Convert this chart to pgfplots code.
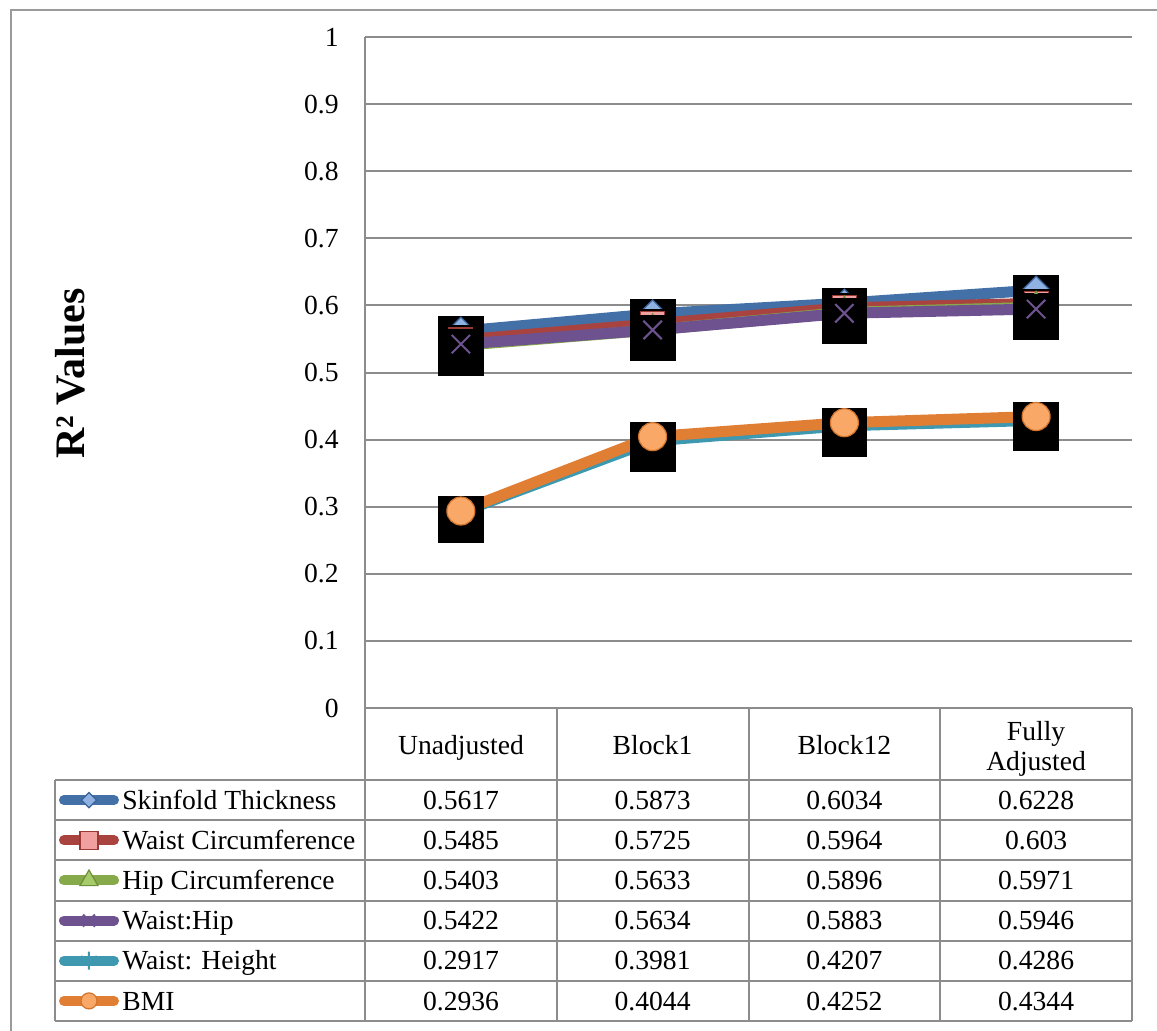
\documentclass[border=0pt]{standalone}
\usepackage{pgfplots}
\pgfplotsset{compat=1.18}
\usepackage{pgfplotstable}
\usepackage{fontspec}
\setmainfont{Liberation Serif}
\definecolor{cBlue}{HTML}{4470A8}
\definecolor{cBlueL}{HTML}{8FB2E3}
\definecolor{cBlueD}{HTML}{3A6298}
\definecolor{cRed}{HTML}{A84340}
\definecolor{cRedL}{HTML}{F0A09E}
\definecolor{cRedD}{HTML}{9A3A37}
\definecolor{cGreen}{HTML}{86A94A}
\definecolor{cGreenL}{HTML}{A5CB6A}
\definecolor{cGreenD}{HTML}{6E8E3A}
\definecolor{cPurple}{HTML}{6E5290}
\definecolor{cTeal}{HTML}{3D98B0}
\definecolor{cOrange}{HTML}{E07F34}
\definecolor{cOrangeL}{HTML}{F9A868}
\definecolor{cOrangeD}{HTML}{D2742C}
\definecolor{gridGray}{HTML}{8C8C8C}
\definecolor{tabGray}{HTML}{8C8C8C}
\definecolor{frameGray}{HTML}{9A9A9A}
\newcommand\tabfont{\fontsize{13.8}{15}\selectfont}
\pgfplotsset{
  legkey/.style 2 args={legend image code/.code={%
    \path (0pt,0pt) (30pt,0pt);
    \draw[line width=5pt,line cap=round,draw=#1] (2.5pt,0pt)--(27.5pt,0pt);
    \draw[##1,mark size=#2] plot coordinates {(15pt,0pt)};}},
  shadowbox/.style={forget plot, only marks, mark=square*, mark size=11.2pt,
    mark options={draw=black, fill=black, yshift=-4pt}},
}
\pgfplotstableread{
x skin waist hip whip wht bmi
0 0.5617 0.5485 0.5403 0.5422 0.2917 0.2936
1 0.5873 0.5725 0.5633 0.5634 0.3981 0.4044
2 0.6034 0.5964 0.5896 0.5883 0.4207 0.4252
3 0.6228 0.6030 0.5971 0.5946 0.4286 0.4344
}\datatab
\begin{document}
\begin{tikzpicture}
\useasboundingbox (0pt,0pt) rectangle (578.5pt,-515pt);
\clip (0pt,0pt) rectangle (578.5pt,-515pt);
\begin{axis}[
  at={(182.5pt,-354pt)}, anchor=south west,
  scale only axis, width=383.5pt, height=335.5pt,
  xmin=-0.5, xmax=3.5, ymin=0, ymax=1,
  axis x line*=bottom, axis y line*=left,
  axis line style={tabGray, line width=1pt},
  xtick=\empty,
  ytick={0,0.1,0.2,0.3,0.4,0.5,0.6,0.7,0.8,0.9,1},
  yticklabels={0,0.1,0.2,0.3,0.4,0.5,0.6,0.7,0.8,0.9,1},
  major tick length=0pt,
  ymajorgrids, grid style={gridGray, line width=1pt},
  yticklabel style={font=\tabfont, anchor=east, inner sep=0pt, xshift=-13pt},
  legend style={at={(-0.3995,-0.1073)}, anchor=north west, draw=none, fill=none,
    inner sep=0pt, outer sep=0pt, row sep=0pt, column sep=1.5pt, font=\tabfont,
    nodes={inner sep=0pt, outer sep=0pt, text height=14.6pt, text depth=5.48pt}},
  legend cell align=left,
  clip=false,
]
% lines
\addplot[cBlue, line width=5.5pt, forget plot] table[x=x,y=skin]{\datatab};
\addplot[cRed, line width=5.5pt, forget plot] table[x=x,y=waist]{\datatab};
\addplot[cGreen, line width=5.5pt, forget plot] table[x=x,y=hip]{\datatab};
\addplot[cPurple, line width=5.5pt, forget plot] table[x=x,y=whip]{\datatab};
\addplot[cTeal, line width=5.5pt, forget plot] table[x=x,y=wht]{\datatab};
\addplot[cOrange, line width=5.5pt, forget plot] table[x=x,y=bmi]{\datatab};
% markers with shadows
\addplot[shadowbox] table[x=x,y=skin]{\datatab};
\addplot[only marks, mark=square*, mark size=4.95pt,
  mark options={rotate=45, fill=cBlueL, draw=cBlueD, line width=0.6pt},
  legkey={cBlue}{2.7pt}] table[x=x,y=skin]{\datatab};
\addlegendentry{Skinfold Thickness}
\addplot[shadowbox] table[x=x,y=waist]{\datatab};
\addplot[only marks, mark=square*, mark size=6pt,
  mark options={fill=cRedL, draw=cRedD, line width=0.6pt},
  legkey={cRed}{4.5pt}] table[x=x,y=waist]{\datatab};
\addlegendentry{Waist Circumference}
\addplot[shadowbox] table[x=x,y=hip]{\datatab};
\addplot[only marks, mark=triangle*, mark size=8pt,
  mark options={fill=cGreenL, draw=cGreenD, line width=0.6pt},
  legkey={cGreen}{5.2pt}] table[x=x,y=hip]{\datatab};
\addlegendentry{Hip Circumference}
\addplot[shadowbox] table[x=x,y=whip]{\datatab};
\addplot[only marks, mark=x, mark size=6.5pt,
  mark options={draw=cPurple, line width=1pt},
  legkey={cPurple}{4.25pt}] table[x=x,y=whip]{\datatab};
\addlegendentry{Waist:Hip}
\addplot[shadowbox] table[x=x,y=wht]{\datatab};
\addplot[only marks, mark=asterisk, mark size=7pt,
  mark options={draw=cTeal, line width=1pt},
  legkey={cTeal}{4.5pt}] table[x=x,y=wht]{\datatab};
\addlegendentry{Waist: Height}
\addplot[shadowbox] table[x=x,y=bmi]{\datatab};
\addplot[only marks, mark=*, mark size=7pt,
  mark options={fill=cOrangeL, draw=cOrangeD, line width=0.6pt},
  legkey={cOrange}{4pt}] table[x=x,y=bmi]{\datatab};
\addlegendentry{BMI}
\end{axis}
\begin{scope}[x=0.5pt, y=-0.5pt]
  \draw[frameGray, line width=1pt] (11,1100) -- (11,10) -- (1200,10);
  \draw[tabGray, line width=1pt] (365,708) -- (365,1021);
  \foreach \xx in {556.75,748.5,940.25,1132}
    \draw[tabGray, line width=1pt] (\xx,708) -- (\xx,1021);
  \draw[tabGray, line width=1pt] (55,780) -- (55,1021);
  \foreach \yy in {780,820.17,860.33,900.5,940.67,980.83,1021}
    \draw[tabGray, line width=1pt] (55,\yy) -- (1132,\yy);
  \node[rotate=90, font=\fontsize{21}{24}\selectfont\bfseries] at (70,373.5) {R² Values};
  \begin{scope}[every node/.style={font=\tabfont, anchor=base, inner sep=0pt}]
    \node at (461,754) {Unadjusted};
    \node at (652.6,754) {Block1};
    \node at (844.4,754) {Block12};
    \node at (1036.1,740) {Fully};
    \node at (1036.1,770) {Adjusted};
    % rows
    \node at (461,809.2) {0.5617}; \node at (652.6,809.2) {0.5873}; \node at (844.4,809.2) {0.6034}; \node at (1036.1,809.2) {0.6228};
    \node at (461,849.3) {0.5485}; \node at (652.6,849.3) {0.5725}; \node at (844.4,849.3) {0.5964}; \node at (1036.1,849.3) {0.603};
    \node at (461,889.5) {0.5403}; \node at (652.6,889.5) {0.5633}; \node at (844.4,889.5) {0.5896}; \node at (1036.1,889.5) {0.5971};
    \node at (461,929.7) {0.5422}; \node at (652.6,929.7) {0.5634}; \node at (844.4,929.7) {0.5883}; \node at (1036.1,929.7) {0.5946};
    \node at (461,969.8) {0.2917}; \node at (652.6,969.8) {0.3981}; \node at (844.4,969.8) {0.4207}; \node at (1036.1,969.8) {0.4286};
    \node at (461,1010.0) {0.2936}; \node at (652.6,1010.0) {0.4044}; \node at (844.4,1010.0) {0.4252}; \node at (1036.1,1010.0) {0.4344};
  \end{scope}
\end{scope}
\end{tikzpicture}
\end{document}
